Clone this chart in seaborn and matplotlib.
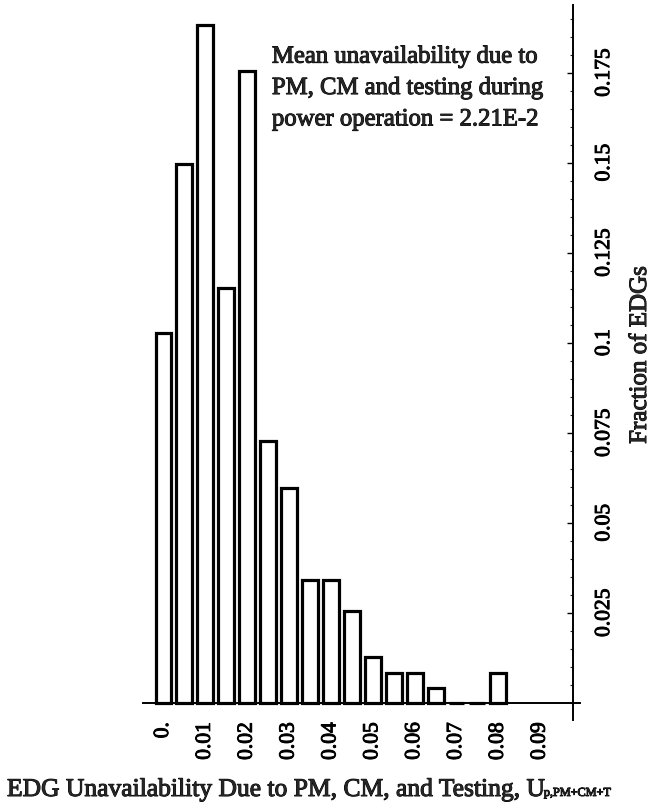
import matplotlib
matplotlib.use("Agg")
import matplotlib.pyplot as plt
import matplotlib.patheffects as pe
import pandas as pd
import seaborn as sns
from matplotlib.ticker import FixedLocator, MultipleLocator

# Histogram of EDG unavailability (bins of width 0.005, centred on the bin value)
bin_centers = [0.000, 0.005, 0.010, 0.015, 0.020, 0.025, 0.030, 0.035, 0.040,
               0.045, 0.050, 0.055, 0.060, 0.065, 0.070, 0.075, 0.080]
fractions = [0.1026, 0.1496, 0.1882, 0.1153, 0.1756, 0.0728, 0.0596, 0.0341, 0.0341,
             0.0256, 0.0126, 0.0083, 0.0083, 0.0040, 0.0, 0.0, 0.0083]

x_ticks = [0.00, 0.01, 0.02, 0.03, 0.04, 0.05, 0.06, 0.07, 0.08, 0.09]
x_tick_labels = ["0.", "0.01", "0.02", "0.03", "0.04", "0.05", "0.06", "0.07", "0.08", "0.09"]
y_ticks = [0.025, 0.05, 0.075, 0.1, 0.125, 0.15, 0.175]
y_tick_labels = ["0.025", "0.05", "0.075", "0.1", "0.125", "0.15", "0.175"]

note = "Mean unavailability due to\nPM, CM and testing during\npower operation = 2.21E-2"
x_title = "EDG Unavailability Due to PM, CM, and Testing, U"
x_title_sub = "p,PM+CM+T"
y_title = "Fraction of EDGs"

sns.set_theme(style="white")
plt.rcParams["font.family"] = ["Liberation Serif", "DejaVu Serif"]

# slightly heavier strokes for all lettering
heavy = [pe.withStroke(linewidth=0.7, foreground="black")]

W, H = 661, 809
fig = plt.figure(figsize=(W / 100, H / 100), dpi=100)
ax = fig.add_axes([143 / W, 89 / H, 437 / W, 715 / H])

df = pd.DataFrame({"u": bin_centers, "frac": fractions})
sns.barplot(data=df, x="u", y="frac", native_scale=True, width=0.76,
            color="white", edgecolor="black", linewidth=2.3, saturation=1,
            errorbar=None, ax=ax)

ax.set_xlim(-0.0049, 0.0995)
ax.set_ylim(-0.0048, 0.1938)

# axes cross: baseline at y=0, value axis on the right
for side in ("left", "top"):
    ax.spines[side].set_visible(False)
ax.spines["bottom"].set_position(("data", 0))
ax.spines["right"].set_position(("data", 0.0978))
for side in ("bottom", "right"):
    ax.spines[side].set_linewidth(1.4)
    ax.spines[side].set_color("black")

ax.yaxis.tick_right()
ax.yaxis.set_label_position("right")

ax.xaxis.set_major_locator(FixedLocator(x_ticks))
ax.set_xticklabels(x_tick_labels)
ax.xaxis.set_minor_locator(MultipleLocator(0.005))
ax.yaxis.set_major_locator(FixedLocator(y_ticks))
ax.set_yticklabels(y_tick_labels)
ax.yaxis.set_minor_locator(MultipleLocator(0.005))

ax.tick_params(axis="x", which="major", direction="in", length=3, width=1,
               pad=14, labelrotation=90, labelsize=15.5, colors="black")
ax.tick_params(axis="x", which="minor", direction="in", length=2, width=0.8)
ax.tick_params(axis="y", which="major", direction="in", length=4, width=1,
               pad=16, labelrotation=90, labelsize=15.5, colors="black")
ax.tick_params(axis="y", which="minor", direction="in", length=2, width=0.8)
for lab in ax.get_yticklabels():
    lab.set_va("center")
    lab.set_path_effects(heavy)
for lab in ax.get_xticklabels():
    lab.set_path_effects(heavy)

ax.set_ylabel(y_title, fontsize=18, rotation=90)
ax.yaxis.set_label_coords((640 - 143) / 437, (720 - 355) / 715)
ax.yaxis.label.set_va("center")
ax.yaxis.label.set_path_effects(heavy)

ax.set_xlabel(x_title, fontsize=18.4)
ax.xaxis.set_label_coords((7 - 143) / 437, (720 - 790) / 715)
ax.xaxis.label.set_ha("left")
ax.xaxis.label.set_va("center")
ax.xaxis.label.set_path_effects(heavy)
ax.annotate(x_title_sub, xy=(1, 0), xycoords=ax.xaxis.label,
            xytext=(0.5, 1.5), textcoords="offset points",
            ha="left", va="bottom", fontsize=8.8, path_effects=heavy)

ax.text(0.0259, 0.1825, note, ha="left", va="top", fontsize=17.8,
        linespacing=1.55, path_effects=heavy)

fig.savefig("out.png", dpi=100)
